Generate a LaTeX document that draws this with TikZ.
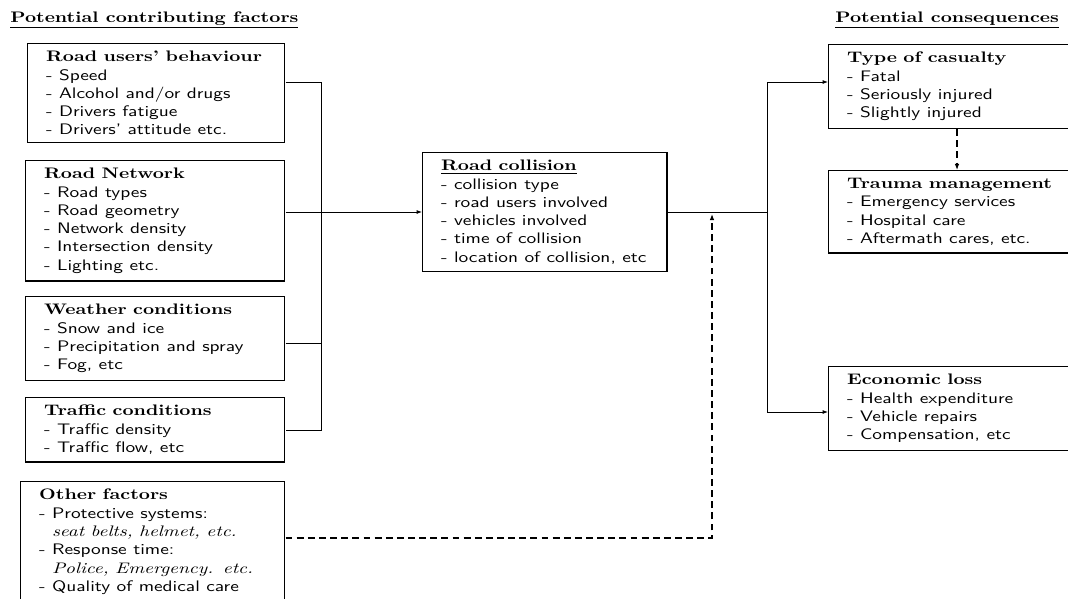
\documentclass[tikz,border=0pt]{standalone}
\usetikzlibrary{arrows.meta}
\begin{document}
\begin{tikzpicture}[x=0.656pt,y=-0.656pt,
  box/.style={draw, line width=0.8pt, anchor=north west, align=left,
    inner xsep=9.5pt, inner ysep=5pt, text width=#1,
    xscale=1.27, transform shape,
    font=\sffamily\fontsize{10}{12}\selectfont},
  hd/.style={font=\rmfamily\bfseries\fontsize{10}{12}\selectfont, anchor=base west,
    inner sep=0pt, xscale=1.27, transform shape},
  conn/.style={line width=0.6pt},
  arr/.style={conn, -{Latex[length=3.5pt,width=2.6pt]}},
  dsh/.style={line width=0.7pt, dash pattern=on 4.5pt off 2.8pt}]
\clip (0,0) rectangle (1068,599);
\fill[white] (0,0) rectangle (1068,599);
% titles
\node[hd] (t1) at (10,22) {\underline{Potential contributing factors}};
\node[hd] (t2) at (835,22) {\underline{Potential consequences}};
% left boxes
\node[box=113.8pt] (b1) at (27,43) {{\rmfamily\bfseries Road users' behaviour}\\- Speed\\- Alcohol and/or drugs\\- Drivers fatigue\\- Drivers' attitude etc.};
\node[box=114.8pt] (b2) at (25,160) {{\rmfamily\bfseries Road Network}\\- Road types\\- Road geometry\\- Network density\\- Intersection density\\- Lighting etc.};
\node[box=114.8pt] (b3) at (25,296) {{\rmfamily\bfseries Weather conditions}\\- Snow and ice\\- Precipitation and spray\\- Fog, etc};
\node[box=114.8pt] (b4) at (25,397) {{\rmfamily\bfseries Traffic conditions}\\- Traffic density\\- Traffic flow, etc};
\node[box=117.4pt] (b5) at (20,481) {{\rmfamily\bfseries Other factors}\\- Protective systems:\\\phantom{- }{\rmfamily\itshape seat belts, helmet, etc.}\\- Response time:\\\phantom{- }{\rmfamily\itshape Police, Emergency. etc.}\\- Quality of medical care};
% centre
\node[box=107.1pt] (c) at (422,152) {{\rmfamily\bfseries\underline{Road collision}}\\- collision type\\- road users involved\\- vehicles involved\\- time of collision\\- location of collision, etc};
% right boxes
\node[box=121.5pt] (r1) at (828,44) {{\rmfamily\bfseries Type of casualty}\\- Fatal\\- Seriously injured\\- Slightly injured};
\node[box=121.5pt] (r2) at (828,170) {{\rmfamily\bfseries Trauma management}\\- Emergency services\\- Hospital care\\- Aftermath cares, etc.};
\node[box=121.5pt] (r3) at (828,366) {{\rmfamily\bfseries Economic loss}\\- Health expenditure\\- Vehicle repairs\\- Compensation, etc};
% junctions
\coordinate (j1) at (321,82);
\coordinate (j2) at (321,212);
\coordinate (j3) at (321,343);
\coordinate (j4) at (321,430);
\coordinate (k0) at (767,212);
\coordinate (k1) at (767,82);
\coordinate (k2) at (767,412);
\coordinate (d1) at (712,538);
\coordinate (d2) at (712,214);
\coordinate (d3) at (957,0);
% left connectors
\draw[conn] (b1.east |- j1) -- (j1) -- (j4) -- (b4.east |- j4);
\draw[conn] (b2.east |- j2) -- (j2);
\draw[conn] (b3.east |- j3) -- (j3);
\draw[arr] (j2) -- (c.west |- j2);
% right connectors
\draw[conn] (c.east |- k0) -- (k0);
\draw[arr] (k0) -- (k1) -- (r1.west |- k1);
\draw[arr] (k0) -- (k2) -- (r3.west |- k2);
% dashed
\draw[dsh, -{Latex[length=4pt,width=3pt]}] (b5.east |- d1) -- (d1) -- (d2);
\draw[dsh, -{Latex[length=4pt,width=3pt]}] (r1.south -| d3) -- (r2.north -| d3);
\end{tikzpicture}
\end{document}
